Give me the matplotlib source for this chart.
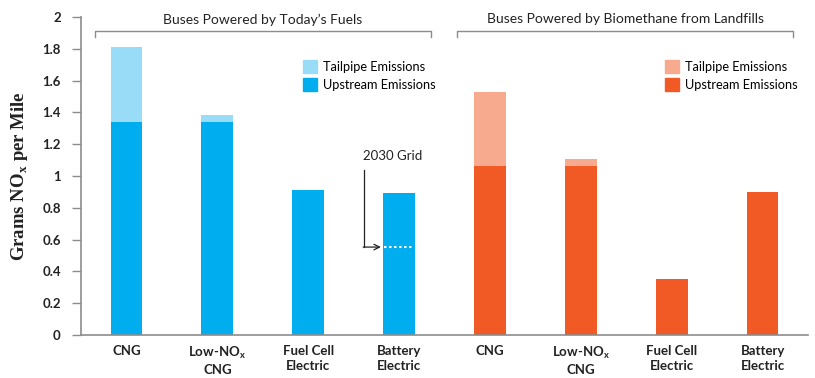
from matplotlib import pyplot as plt
from matplotlib.patches import Patch

# data
labels = ["CNG", "Low-NO$_\\mathregular{x}$\nCNG", "Fuel Cell\nElectric", "Battery\nElectric",
          "CNG", "Low-NO$_\\mathregular{x}$\nCNG", "Fuel Cell\nElectric", "Battery\nElectric"]
upstream = [1.34, 1.34, 0.91, 0.89, 1.06, 1.06, 0.35, 0.90]
tailpipe = [0.47, 0.045, 0.0, 0.0, 0.47, 0.045, 0.0, 0.0]
grid_2030 = 0.553
group_titles = ["Buses Powered by Today\u2019s Fuels", "Buses Powered by Biomethane from Landfills"]
yticks = [0, 0.2, 0.4, 0.6, 0.8, 1, 1.2, 1.4, 1.6, 1.8, 2]

blue = "#00adef"
blue_lt = "#99dcf7"
orange = "#f15a24"
orange_lt = "#f7aa8d"
grey = "#8c8c8c"
txt = "#222222"

plt.rcParams['font.family'] = ['Lato', 'DejaVu Sans']
plt.rcParams['mathtext.fontset'] = 'custom'
plt.rcParams['mathtext.rm'] = 'Lato'

fig = plt.figure(figsize=(8.15, 3.78), dpi=100)
ax = fig.add_axes([81/815, 43/378, 727/815, 318/378])

x = list(range(len(labels)))
up_cols = [blue]*4 + [orange]*4
tp_cols = [blue_lt]*4 + [orange_lt]*4
ax.bar(x, upstream, width=0.35, color=up_cols, zorder=2)
ax.bar(x, tailpipe, bottom=upstream, width=0.35, color=tp_cols, zorder=2)

ax.set_xlim(-0.5, 7.5)
ax.set_ylim(0, 2)
ax.set_yticks(yticks)
ax.set_yticklabels([("%g" % v) for v in yticks], fontsize=9.5, color=txt, fontweight='bold')
ax.set_xticks(x)
ax.set_xticklabels(labels, fontsize=9.5, color=txt, fontweight='bold', linespacing=1.3)
ax.tick_params(axis='y', length=6.5, width=1, color=grey, pad=8)
ax.tick_params(axis='x', length=0, pad=7)
for s in ["top", "right"]:
    ax.spines[s].set_visible(False)
for s in ["left", "bottom"]:
    ax.spines[s].set_color(grey)
    ax.spines[s].set_linewidth(1.2)

ax.set_ylabel("Grams NO$_\\mathregular{x}$ per Mile", family=['Liberation Serif'], fontweight='bold',
              fontsize=13.5, color=txt, labelpad=9)

# group brackets
for i, (x0, x1) in enumerate([(-0.35, 3.35), (3.64, 7.34)]):
    ax.plot([x0, x0, x1, x1], [1.875, 1.91, 1.91, 1.875], color=grey, lw=1, clip_on=False)
    ax.text((x0 + x1) / 2, 1.985, group_titles[i], ha='center', va='center', fontsize=10, color=txt)

# legends
leg_kw = dict(loc='upper left', frameon=False, fontsize=9.2, handlelength=1.1, handleheight=1.2,
              handletextpad=0.5, labelspacing=0.4, borderpad=0)
leg1 = ax.legend(handles=[Patch(color=blue_lt, label="Tailpipe Emissions"),
                          Patch(color=blue, label="Upstream Emissions")],
                 bbox_to_anchor=(0.296, 0.885), **leg_kw)
ax.add_artist(leg1)
ax.legend(handles=[Patch(color=orange_lt, label="Tailpipe Emissions"),
                   Patch(color=orange, label="Upstream Emissions")],
          bbox_to_anchor=(0.794, 0.885), **leg_kw)

# 2030 grid marker
ax.plot([3 - 0.165, 3 + 0.165], [grid_2030, grid_2030], color='white', lw=1.5, ls=(0, (1.2, 1.2)), zorder=3)
ax.plot([2.61, 2.61], [1.04, grid_2030], color=txt, lw=0.9)
ax.annotate("", xy=(2.8, grid_2030), xytext=(2.605, grid_2030),
            arrowprops=dict(arrowstyle='->', color=txt, lw=0.9, shrinkA=0, shrinkB=0))
ax.text(2.6, 1.09, "2030 Grid", fontsize=9.5, color=txt, ha='left', va='bottom')

fig.savefig("out.png", dpi=100)
